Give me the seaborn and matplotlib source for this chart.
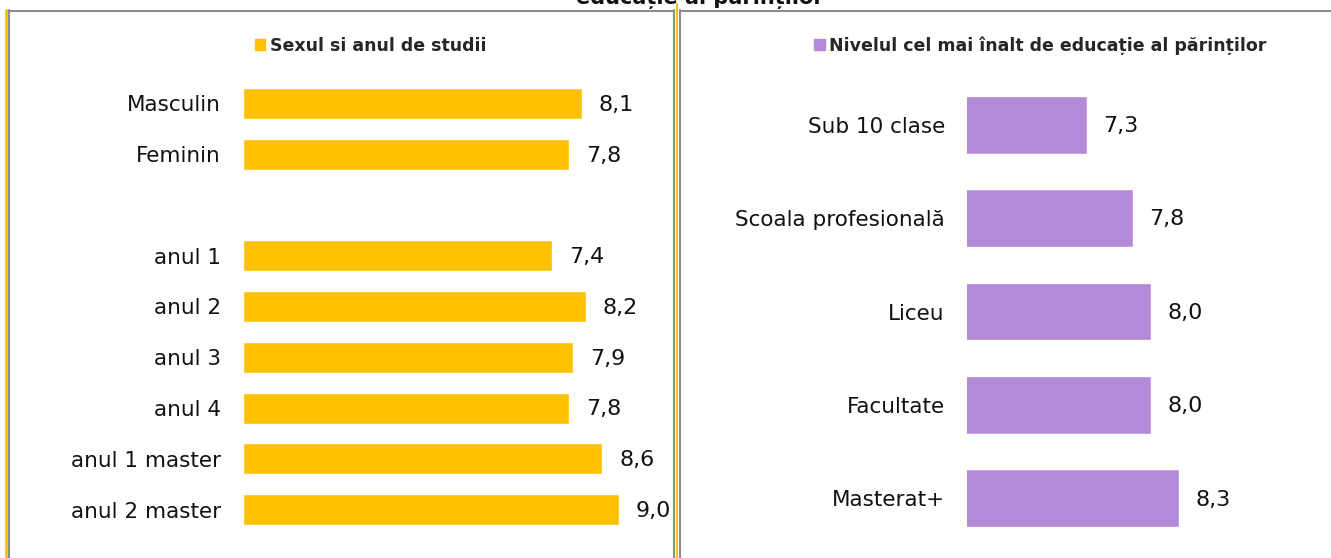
import matplotlib
matplotlib.use("Agg")
import matplotlib.pyplot as plt
from matplotlib.patches import Patch
from matplotlib.lines import Line2D
import seaborn as sns
import pandas as pd
import numpy as np

# ---- data ----
left_categories = ["Masculin", "Feminin", " ", "anul 1", "anul 2", "anul 3", "anul 4", "anul 1 master", "anul 2 master"]
left_values = [8.1, 7.8, np.nan, 7.4, 8.2, 7.9, 7.8, 8.6, 9.0]
left_series = "Sexul si anul de studii"

right_categories = ["Sub 10 clase", "Scoala profesională", "Liceu", "Facultate", "Masterat+"]
right_values = [7.3, 7.8, 8.0, 8.0, 8.3]
right_series = "Nivelul cel mai înalt de educație al părinților"

top_title = "educație al părinților"

YELLOW = "#FFC000"
PURPLE = "#B48AD8"
GREY = "#8C8C8C"

sns.set_style("white")
plt.rcParams["font.family"] = ["DejaVu Sans"]

W, H = 1331, 558
fig = plt.figure(figsize=(W / 100, H / 100), dpi=100)

def px_rect(l, t, r, b):
    return [l / W, (H - b) / H, (r - l) / W, (b - t) / H]

axL = fig.add_axes(px_rect(243, 78, 661, 535))
axR = fig.add_axes(px_rect(967, 78, 1243, 545))

dfL = pd.DataFrame({"cat": left_categories, "val": left_values})
dfR = pd.DataFrame({"cat": right_categories, "val": right_values})

sns.barplot(data=dfL, x="val", y="cat", order=left_categories, color=YELLOW,
            saturation=1, width=0.61, ax=axL, errorbar=None)
sns.barplot(data=dfR, x="val", y="cat", order=right_categories, color=PURPLE,
            saturation=1, width=0.62, ax=axR, errorbar=None)

axL.set_xlim(0, 10)
axR.set_xlim(6, 9)

for ax in (axL, axR):
    ax.set_xlabel("")
    ax.set_ylabel("")
    ax.set_xticks([])
    for s in ax.spines.values():
        s.set_visible(False)
    ax.tick_params(axis="y", length=0, pad=16, labelsize=15.5, labelcolor="#111111")
    ax.patch.set_alpha(0)
    for p in ax.patches:
        w = p.get_width()
        if w is None or np.isnan(w):
            continue
        x_end = p.get_x() + w
        yc = p.get_y() + p.get_height() / 2
        ax.annotate(f"{w:.1f}".replace(".", ","), (x_end, yc), xytext=(12, -1),
                    textcoords="offset points", ha="left", va="center",
                    fontsize=16, color="#111111", annotation_clip=False)

axL.legend(handles=[Patch(color=YELLOW, label=left_series)], loc="center",
           bbox_to_anchor=(0.305, 1.07), frameon=False, handlelength=0.6,
           handleheight=0.6, handletextpad=0.25, prop={"weight": "bold", "size": 12.5})
axR.legend(handles=[Patch(color=PURPLE, label=right_series)], loc="center",
           bbox_to_anchor=(0.266, 1.069), frameon=False, handlelength=0.6,
           handleheight=0.6, handletextpad=0.25, prop={"weight": "bold", "size": 12.5})

# panel frames
def vline(x, y0, y1, color, lw):
    fig.add_artist(Line2D([x / W, x / W], [(H - y0) / H, (H - y1) / H], color=color, lw=lw))

def hline(y, x0, x1, color, lw):
    fig.add_artist(Line2D([x0 / W, x1 / W], [(H - y) / H, (H - y) / H], color=color, lw=lw))

hline(10.5, 8, 674, GREY, 1.5)
hline(10.5, 680, W, GREY, 1.5)
vline(6, 10, H, YELLOW, 2)
vline(8.5, 10, H, GREY, 1.5)
vline(674, 10, H, GREY, 1.5)
vline(677, 4, H, YELLOW, 1.5)
vline(680, 10, H, GREY, 1.5)

fig.text(700 / W, 1 - 4 / H, top_title, ha="center", va="baseline",
         fontsize=15, fontweight="bold", color="#111111")

fig.savefig("out.png", dpi=100)
